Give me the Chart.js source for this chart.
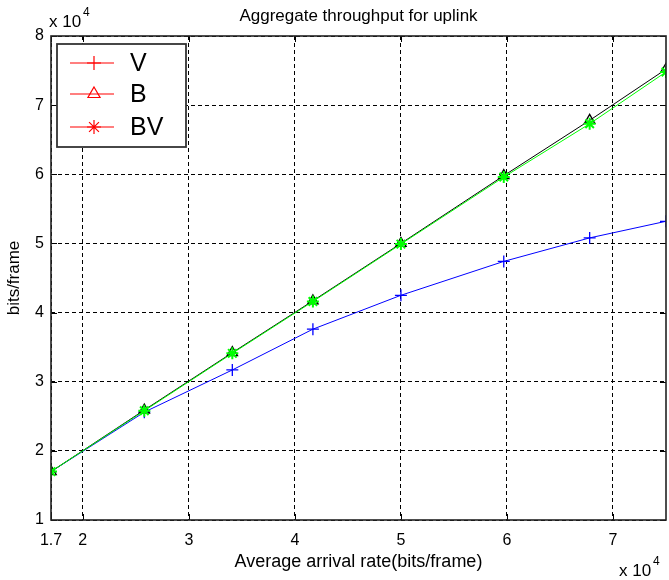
<!DOCTYPE html>
<html>
<head>
<meta charset="utf-8">
<script src="https://cdn.jsdelivr.net/npm/chart.js@4.4.0/dist/chart.umd.min.js"></script>
<style>
    html, body { margin: 0; padding: 0; background: #fff; overflow: hidden; }
    canvas { display: block; }
</style>
</head>
<body>
<canvas id="grafico" width="669" height="580"></canvas>
<script>
// valores en unidades de 10^4 bits/frame
const tasaLlegada = [1.7, 2.58, 3.41, 4.17, 5.0, 5.97, 6.78, 7.5];
const serieV  = [1.7, 2.56, 3.17, 3.76, 4.25, 4.74, 5.08, 5.32];
const serieB  = [1.7, 2.59, 3.42, 4.17, 5.0, 5.98, 6.78, 7.52];
const serieBV = [1.7, 2.58, 3.41, 4.16, 4.99, 5.96, 6.73, 7.48];
const ticksX = [1.7, 2, 3, 4, 5, 6, 7];
const ticksY = [1, 2, 3, 4, 5, 6, 7, 8];
const nombres = ['V', 'B', 'BV'];

const fuente = '"Liberation Sans", Arial, sans-serif';

function puntos(valores) {
    return tasaLlegada.map((x, i) => ({ x: x, y: valores[i] }));
}

// marco, marcas interiores, "x 10^4" y leyenda
const marco = {
    id: 'marco',
    afterDraw(chart) {
        const { ctx, chartArea: a, scales: { x, y } } = chart;
        ctx.save();
        ctx.strokeStyle = '#000';
        ctx.lineWidth = 1;
        ctx.beginPath();
        ticksX.forEach(v => {
            const px = Math.round(x.getPixelForValue(v)) + 0.5;
            ctx.moveTo(px, a.bottom); ctx.lineTo(px, a.bottom - 6);
            ctx.moveTo(px, a.top); ctx.lineTo(px, a.top + 6);
        });
        ticksY.forEach(v => {
            const py = Math.round(y.getPixelForValue(v)) + 0.5;
            ctx.moveTo(a.left, py); ctx.lineTo(a.left + 6, py);
            ctx.moveTo(a.right, py); ctx.lineTo(a.right - 6, py);
        });
        ctx.stroke();
        ctx.strokeStyle = '#222';
        ctx.lineWidth = 1.6;
        ctx.strokeRect(a.left, a.top, a.right - a.left, a.bottom - a.top);

        // exponentes
        ctx.fillStyle = '#000';
        ctx.textBaseline = 'alphabetic';
        ctx.textAlign = 'left';
        ctx.font = '17px ' + fuente;
        ctx.fillText('x 10', a.left - 2, 27);
        ctx.font = '12px ' + fuente;
        ctx.fillText('4', a.left + 32, 16);
        ctx.font = '17px ' + fuente;
        ctx.fillText('x 10', 619, 576);
        ctx.font = '12px ' + fuente;
        ctx.fillText('4', 653, 565);

        // leyenda
        const lx = a.left + 6, ly = a.top + 8;
        ctx.fillStyle = '#fff';
        ctx.fillRect(lx, ly, 129, 103);
        ctx.strokeStyle = '#333';
        ctx.lineWidth = 1.8;
        ctx.strokeRect(lx, ly, 129, 103);
        const estilos = ['cross', 'triangle', 'star'];
        const filas = [ly + 19, ly + 50, ly + 83];
        nombres.forEach((nombre, i) => {
            const fy = filas[i];
            ctx.strokeStyle = '#ff0000';
            ctx.fillStyle = 'rgba(0,0,0,0)';
            ctx.lineWidth = 1.2;
            ctx.beginPath();
            ctx.moveTo(lx + 13, fy); ctx.lineTo(lx + 57, fy);
            ctx.stroke();
            Chart.helpers.drawPoint(ctx, { pointStyle: estilos[i], radius: 7, rotation: 0, borderWidth: 1.4 }, lx + 37, fy);
            ctx.fillStyle = '#000';
            ctx.font = '25px ' + fuente;
            ctx.textBaseline = 'middle';
            ctx.fillText(nombre, lx + 73, fy + 1);
        });
        ctx.restore();
    }
};

new Chart(document.getElementById('grafico'), {
    type: 'scatter',
    data: {
        datasets: [
            {
                label: nombres[0],
                data: puntos(serieV),
                showLine: true,
                borderColor: '#0000ff',
                backgroundColor: '#0000ff',
                borderWidth: 1,
                pointStyle: 'cross',
                pointRadius: 6,
                pointBorderWidth: 1.3,
                order: 2
            },
            {
                label: nombres[1],
                data: puntos(serieB),
                showLine: true,
                borderColor: '#000000',
                backgroundColor: 'rgba(0,0,0,0)',
                borderWidth: 1,
                pointStyle: 'triangle',
                pointRadius: 6,
                pointBorderWidth: 1.3,
                order: 1
            },
            {
                label: nombres[2],
                data: puntos(serieBV),
                showLine: true,
                borderColor: '#00ff00',
                backgroundColor: '#00ff00',
                borderWidth: 1,
                pointStyle: 'star',
                pointRadius: 6,
                pointBorderWidth: 2,
                order: 0
            }
        ]
    },
    options: {
        responsive: false,
        animation: false,
        layout: { autoPadding: false, padding: { top: 0, right: 3, left: 0, bottom: 4 } },
        plugins: {
            legend: { display: false },
            tooltip: { enabled: false },
            title: {
                display: true,
                text: 'Aggregate throughput for uplink',
                fullSize: false,
                color: '#000',
                font: { family: fuente, size: 17, weight: 'normal' },
                padding: { top: 6, bottom: 9.6 }
            }
        },
        scales: {
            x: {
                type: 'linear',
                min: 1.7,
                max: 7.5,
                afterBuildTicks: s => { s.ticks = ticksX.map(v => ({ value: v })); },
                afterFit: s => { s.height = 56; s.paddingRight = 0; },
                grid: { color: '#000', lineWidth: 1, drawTicks: false },
                border: { display: false, dash: [4, 3] },
                ticks: {
                    color: '#000',
                    padding: 11,
                    maxRotation: 0,
                    font: { family: fuente, size: 16 },
                    callback: v => String(v)
                },
                title: {
                    display: true,
                    text: 'Average arrival rate(bits/frame)',
                    color: '#000',
                    font: { family: fuente, size: 18 },
                    padding: { top: 4, bottom: 3 }
                }
            },
            y: {
                type: 'linear',
                min: 1,
                max: 8,
                afterBuildTicks: s => { s.ticks = ticksY.map(v => ({ value: v })); },
                afterFit: s => { s.width = 51; },
                grid: { color: '#000', lineWidth: 1, drawTicks: false },
                border: { display: false, dash: [4, 3] },
                ticks: {
                    color: '#000',
                    padding: 7,
                    font: { family: fuente, size: 16 },
                    callback: v => String(v)
                },
                title: {
                    display: true,
                    text: 'bits/frame',
                    color: '#000',
                    font: { family: fuente, size: 17 },
                    padding: { top: 4, bottom: 4 }
                }
            }
        }
    },
    plugins: [marco]
});
</script>
</body>
</html>
